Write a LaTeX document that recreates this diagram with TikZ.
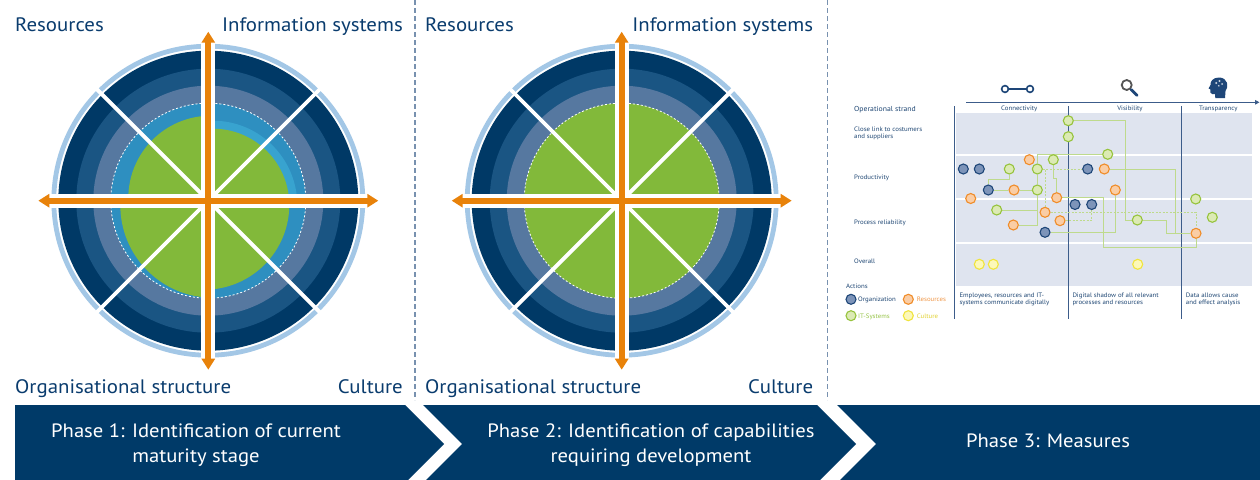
\documentclass[tikz,border=0pt]{standalone}
\usepackage{fontspec}
\setmainfont{PT Sans}[FakeStretch=1.07]
\usetikzlibrary{arrows.meta}
\definecolor{navytext}{RGB}{10,60,110}
\definecolor{bandc}{RGB}{0,58,104}
\definecolor{ringA}{RGB}{0,57,102}
\definecolor{ringB}{RGB}{26,85,131}
\definecolor{ringC}{RGB}{86,120,160}
\definecolor{lightring}{RGB}{163,199,230}
\definecolor{blueM}{RGB}{46,143,192}
\definecolor{blueL}{RGB}{56,163,207}
\definecolor{greenF}{RGB}{130,185,58}
\definecolor{orangeA}{RGB}{232,130,10}
\definecolor{dashsep}{RGB}{120,145,175}
\definecolor{graybg}{RGB}{223,228,239}
\definecolor{colline}{RGB}{60,92,138}
\definecolor{smallnavy}{RGB}{30,70,115}
\definecolor{orgline}{RGB}{30,70,120}
\definecolor{orgfill}{RGB}{125,148,185}
\definecolor{resline}{RGB}{240,140,40}
\definecolor{resfill}{RGB}{250,205,165}
\definecolor{itline}{RGB}{150,195,60}
\definecolor{itfill}{RGB}{220,234,180}
\definecolor{culline}{RGB}{240,228,60}
\definecolor{culfill}{RGB}{252,248,185}
\definecolor{connc}{RGB}{190,218,140}
\definecolor{restext}{RGB}{240,150,70}
\definecolor{ittext}{RGB}{150,195,70}
\definecolor{cultext}{RGB}{225,210,50}
\definecolor{magngray}{RGB}{85,85,85}

\pgfdeclarelayer{bglayer}
\pgfdeclarelayer{midlayer}
\pgfsetlayers{bglayer,midlayer,main}

\tikzset{
  biglabel/.style={font=\fontsize{19.5}{22}\selectfont, text=navytext, inner sep=0pt},
  phasetext/.style={font=\fontsize{19.3}{25}\selectfont, text=white, align=center, inner sep=0pt},
  smalltext/.style={font=\fontsize{6.4}{7}\selectfont, text=smallnavy, inner sep=0pt, align=left},
  dotbase/.style={circle, minimum size=10pt, inner sep=0pt, line width=1.1pt},
  orgdot/.style={dotbase, draw=orgline, fill=orgfill},
  resdot/.style={dotbase, draw=resline, fill=resfill},
  itdot/.style={dotbase, draw=itline, fill=itfill},
  culdot/.style={dotbase, draw=culline, fill=culfill},
  conn/.style={draw=connc, line width=0.9pt},
  connd/.style={conn, dash pattern=on 2pt off 1.5pt},
  orangearrow/.style={draw=orangeA, line width=6pt, {Triangle[width=13pt,length=11pt]}-{Triangle[width=13pt,length=11pt]}},
  sepline/.style={draw=dashsep, line width=1.1pt, dash pattern=on 5pt off 3pt},
  colsep/.style={draw=colline, line width=1.4pt},
}

\newcommand\wheelrings{%
  \draw[lightring, line width=4.8pt] (0,0) circle (154.5);
  \fill[ringA] (0,0) circle (150);
  \fill[ringB] (0,0) circle (132);
  \fill[ringC] (0,0) circle (115);
}
\newcommand\wheelcross{%
  \draw[white, dash pattern=on 2pt off 2pt, line width=0.8pt] (0,0) circle (97.5);
  \draw[white, line width=3.8pt] (45:-161) -- (45:161);
  \draw[white, line width=3.8pt] (135:-161) -- (135:161);
  \draw[white, line width=14pt] (0,-161) -- (0,161);
  \draw[white, line width=14pt] (-161,0) -- (161,0);
  \draw[orangearrow] (0,-169) -- (0,169);
  \draw[orangearrow] (-170,0) -- (170,0);
}

\begin{document}
\begin{tikzpicture}[x=1pt,y=-1pt]
\useasboundingbox (0,0) rectangle (1260,479);
\clip (0,0) rectangle (1260,479);
\begin{pgfonlayer}{bglayer}
\fill[white] (0,0) rectangle (1260,479);
\fill[graybg] (955.5,112.7) rectangle (1252,286);
\foreach \yy in {155,199,243.3} \draw[white, line width=2pt] (955.5,\yy) -- (1252,\yy);
\draw[colsep] (954.7,106) -- (954.7,318.5);
\draw[colsep] (1068.3,106) -- (1068.3,318.5);
\draw[colsep] (1181.7,106) -- (1181.7,318.5);
\end{pgfonlayer}

% separators
\draw[sepline] (415,0) -- (415,400);
\draw[sepline] (827.5,0) -- (827.5,400);

% wheel 1
\begin{scope}[shift={(208.3,200.7)}, yscale=-1]
  \wheelrings
  \fill[blueM] (0,0) circle (97.5);
  \begin{scope}
    \clip (0,0) rectangle (120,120);
    \fill[blueL] (4.5,-4.5) circle (84.5);
    \fill[greenF] (4.5,-4.5) circle (76.5);
  \end{scope}
  \begin{scope}
    \clip (0,0) rectangle (-120,120);
    \fill[greenF] (2.5,2.5) circle (82.5);
  \end{scope}
  \begin{scope}
    \clip (0,0) rectangle (-120,-120);
    \clip (0,0) circle (97.5);
    \fill[greenF] (4.5,-4.5) circle (92.5);
  \end{scope}
  \begin{scope}
    \clip (0,0) rectangle (120,-120);
    \fill[greenF] (-4,-4) circle (85);
  \end{scope}
  \wheelcross
\end{scope}

% wheel 2
\begin{scope}[shift={(621.7,200.7)}, yscale=-1]
  \wheelrings
  \fill[greenF] (0,0) circle (97.5);
  \wheelcross
\end{scope}

% wheel labels
\node[biglabel, anchor=base west] (res1) at (15,31.7) {Resources};
\node[biglabel, anchor=base east] (inf1) at (403,31.7) {Information systems};
\node[biglabel, anchor=base west] (org1) at (15,393.5) {Organisational structure};
\node[biglabel, anchor=base east] (cul1) at (403,393.5) {Culture};
\node[biglabel, anchor=base west] (res2) at (425,31.7) {Resources};
\node[biglabel, anchor=base east] (inf2) at (813.3,31.7) {Information systems};
\node[biglabel, anchor=base west] (org2) at (425,393.5) {Organisational structure};
\node[biglabel, anchor=base east] (cul2) at (813.3,393.5) {Culture};

% phase bands
\fill[bandc] (15,405) -- (405,405) -- (444,444) -- (405,483) -- (15,483) -- cycle;
\fill[bandc] (423,405) -- (817,405) -- (856,444) -- (817,483) -- (423,483) -- (462,444) -- cycle;
\fill[bandc] (837,405) -- (1260,405) -- (1260,483) -- (837,483) -- (876,444) -- cycle;
\node[phasetext] (ph1) at (196,445.5) {Phase 1: Identification of current\\maturity stage};
\node[phasetext] (ph2) at (651,445.5) {Phase 2: Identification of capabilities\\requiring development};
\node[phasetext, anchor=base] (ph3) at (1048,447.5) {Phase 3: Measures};

% ---------- phase 3 matrix ----------
\draw[draw=colline, line width=1.3pt, -{Triangle[width=4.5pt,length=4.5pt]}] (966,102.3) -- (1259.5,102.3);

% icons
\draw[draw=orgline, line width=1.6pt] (1008.5,89) -- (1026.5,89);
\draw[draw=orgline, line width=1.6pt, fill=white] (1005,89) circle (3.4);
\draw[draw=orgline, line width=1.6pt, fill=white] (1030,89) circle (3.4);
\draw[draw=magngray, line width=1.8pt] (1126.7,85) circle (5);
\draw[draw=orgline, line width=2.8pt, line cap=round] (1131.2,89.5) -- (1137,95.3);
\fill[orgline] (1225,98) -- (1225.5,91) .. controls (1229,87) and (1228,77.5) .. (1219,77.5)
  .. controls (1213,77.5) and (1210,81.5) .. (1210.5,85) -- (1208.5,88.5) -- (1210.3,89.3)
  -- (1210.3,92.5) .. controls (1211,94.3) and (1213,94.3) .. (1215,94) -- (1215.3,98) -- cycle;
\fill[white!75!orgline] (1216.3,83) circle (1.1) (1219.5,81) circle (1.1) (1222,84) circle (1) (1218.8,85.8) circle (0.9);

% headers
\node[smalltext, anchor=base] (hc) at (1019.3,110.6) {Connectivity};
\node[smalltext, anchor=base] (hv) at (1130,110.6) {Visibility};
\node[smalltext, anchor=base] (ht) at (1218.3,110.6) {Transparency};

% row labels
\node[smalltext, anchor=base west, font=\fontsize{7.2}{8}\selectfont] (lop) at (854,111.6) {Operational strand};
\node[smalltext, anchor=west] (lcl) at (854,133.5) {Close link to costumers\\and suppliers};
\node[smalltext, anchor=base west] (lpr) at (854,179.6) {Productivity};
\node[smalltext, anchor=base west] (lrel) at (854,224) {Process reliability};
\node[smalltext, anchor=base west] (lov) at (854,263) {Overall};
\node[smalltext, anchor=base west] (lact) at (846,288) {Actions};

% legend
\node[orgdot] (lgo) at (851,299.3) {};
\node[smalltext, anchor=base west] (lgot) at (858,301.6) {Organization};
\node[resdot] (lgr) at (908.3,299.3) {};
\node[smalltext, anchor=base west, text=restext] (lgrt) at (916.7,301.6) {Resources};
\node[itdot] (lgi) at (851,315.7) {};
\node[smalltext, anchor=base west, text=ittext] (lgit) at (858,318) {IT-Systems};
\node[culdot] (lgc) at (908.3,315.7) {};
\node[smalltext, anchor=base west, text=cultext] (lgct) at (916.7,318) {Culture};

% bottom descriptions
\node[smalltext, anchor=west] (d1) at (959.3,299.2) {Employees, resources and IT-\\systems communicate digitally};
\node[smalltext, anchor=west] (d2) at (1072.3,299.2) {Digital shadow of all relevant\\processes and resources};
\node[smalltext, anchor=west] (d3) at (1185.7,299.2) {Data allows cause\\and effect analysis};

% dots
\node[itdot] (g1) at (1068.3,120.7) {};
\node[itdot] (g2) at (1068.3,136.7) {};
\node[itdot] (g3) at (1107.7,154.3) {};
\node[itdot] (g4) at (1053.3,159.7) {};
\node[itdot] (g5) at (1009.3,169) {};
\node[itdot] (g6) at (1037.3,169) {};
\node[itdot] (g7) at (1037.3,190) {};
\node[itdot] (g8) at (996.7,210) {};
\node[itdot] (g9) at (1137.3,220) {};
\node[itdot] (g10) at (1195.7,199) {};
\node[itdot] (g11) at (1212.3,217.3) {};
\node[orgdot] (o1) at (963.3,169) {};
\node[orgdot] (o2) at (979.3,169) {};
\node[orgdot] (o3) at (1087.7,169) {};
\node[orgdot] (o4) at (988.3,190) {};
\node[orgdot] (o5) at (1075,204.5) {};
\node[orgdot] (o6) at (1091.7,204.5) {};
\node[orgdot] (o7) at (1045,232.3) {};
\node[resdot] (r1) at (1029.3,159.7) {};
\node[resdot] (r2) at (1104.3,169) {};
\node[resdot] (r3) at (1014,190) {};
\node[resdot] (r4) at (1115.3,190) {};
\node[resdot] (r5) at (970.7,198.5) {};
\node[resdot] (r6) at (1056.7,197.7) {};
\node[resdot] (r7) at (1045,212.3) {};
\node[resdot] (r8) at (1060,220.7) {};
\node[resdot] (r9) at (1013.3,225) {};
\node[resdot] (r10) at (1196,233.3) {};
\node[culdot] (c1) at (979.3,264.3) {};
\node[culdot] (c2) at (993.3,264.3) {};
\node[culdot] (c3) at (1137.7,264.3) {};

\coordinate (j1) at (1037.3,210);
\coordinate (j2) at (1175,233.3);
\coordinate (j3) at (1045,169);

% connectors
\begin{pgfonlayer}{midlayer}
\draw[conn] (g1) -- (1125,120.7) -- (1125,220) -- (g9);
\draw[conn] (g3) -- (1037.3,154.3) -- (g6);
\draw[conn] (g6) -- (g7);
\draw[conn] (g7) -- (1037.3,225) -- (r9);
\draw[conn] (g8) -- (j1);
\draw[conn] (g5) -- (1009.3,179) -- (988.3,179) -- (o4);
\draw[conn] (o4) -- (r3);
\draw[conn] (r3) -- (g7);
\draw[conn] (g4) -- (1053.3,178.3) -- (1056.7,178.3) -- (r6);
\draw[conn] (r6) -- (1103.3,197.7) -- (1103.3,247.7) -- (1196,247.7) -- (r10);
\draw[conn] (r2) -- (1175,169) -- (1175,233.3) -- (r10);
\draw[conn] (g9) -- (1166.7,220) -- (1166.7,233.3) -- (j2);
\draw[conn] (o7) -- (1115.3,232.3) -- (r4);
\draw[connd] (g6) -- (o3);
\draw[connd] (r7) -- (j3);
\draw[connd] (r7) -- (1196,212.3) -- (r10);
\draw[connd] (r8) -- (1091.7,220.7) -- (o6);
\end{pgfonlayer}
\end{tikzpicture}
\end{document}
